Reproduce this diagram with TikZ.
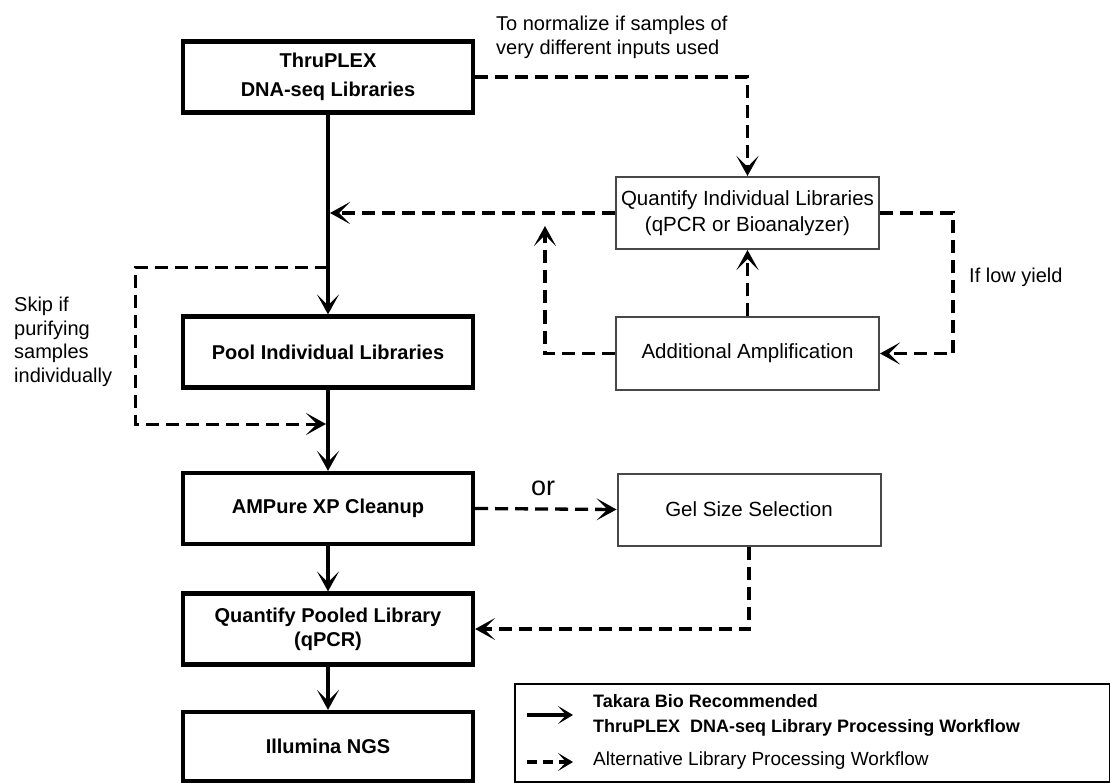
\documentclass[tikz,border=0pt]{standalone}
\usepackage{fontspec}
\setmainfont{Liberation Sans}
\usetikzlibrary{arrows.meta,calc}
\begin{document}
\begin{tikzpicture}[x=1pt,y=-1pt,
  mainbox/.style={draw=black, line width=4.2pt, minimum width=290pt, minimum height=71pt, inner sep=0pt, align=center, font=\bfseries\fontsize{20}{24}\selectfont},
  altbox/.style={draw=black!72, line width=2pt, minimum width=263pt, minimum height=72pt, inner sep=0pt, align=center, font=\fontsize{20.5}{26}\selectfont},
  bigtip/.style={-{Stealth[length=20pt,width=22pt,inset=11pt]}},
  solidarrow/.style={line width=4.2pt, bigtip},
  dasharrow/.style={line width=3.3pt, dash pattern=on 13pt off 7pt, bigtip},
  note/.style={align=left, inner sep=0pt, font=\fontsize{20}{23.5}\selectfont}
]
\useasboundingbox (0,0) rectangle (1110,783);

% main column
\node[mainbox, font=\bfseries\fontsize{20}{29}\selectfont] (thru) at (328,77) {ThruPLEX\\DNA-seq Libraries};
\node[mainbox] (pool) at (328,352) {Pool Individual Libraries};
\node[mainbox] (amp) at (328,508.5) {AMPure XP Cleanup};
\node[mainbox] (qp) at (328,629) {Quantify Pooled Library\\(qPCR)};
\node[mainbox, minimum height=69pt] (ill) at (328,746.5) {Illumina NGS};

% alternative boxes
\node[altbox] (qi) at (747.5,213) {Quantify Individual Libraries\\(qPCR or Bioanalyzer)};
\node[altbox] (aa) at (747.5,353.5) {Additional Amplification};
\node[altbox] (gel) at (749,509.5) {Gel Size Selection};

% notes
\node[note, anchor=west] (norm) at (496,37.5) {To normalize if samples of\\very different inputs used};
\node[note, anchor=west] (skip) at (14,342) {Skip if\\purifying\\samples\\individually};
\node[note, anchor=west] (low) at (969,277) {If low yield};
\node[font=\fontsize{27}{27}\selectfont, inner sep=0pt] (or) at (543,488) {or};

% solid workflow
\draw[solidarrow] (thru.south) -- (pool.north);
\draw[solidarrow] (pool.south) -- (amp.north);
\draw[solidarrow] (amp.south) -- (qp.north);
\draw[solidarrow] (qp.south) -- (ill.north);

% dashed alternatives
\draw[dasharrow] (thru.east) -- (thru.east -| qi.north) -- (qi.north);
\draw[dasharrow, shorten >=2pt] (qi.west) -- (qi.west -| thru.south);
\coordinate (rc) at (953,0);
\draw[dasharrow] (qi.east) -- (qi.east -| rc) -- (aa.east -| rc) -- (aa.east);
\draw[dasharrow] (aa.north) -- (qi.south);
\coordinate (lc) at (545,226);
\draw[dasharrow] (aa.west) -- (aa.west -| lc) -- (lc);
\coordinate (sk1) at (328,268);
\coordinate (sk2) at (328,424);
\coordinate (skx) at (135,0);
\draw[dasharrow, line width=3pt, shorten >=2pt] (sk1) -- (sk1 -| skx) -- (sk2 -| skx) -- (sk2);
\draw[dasharrow] (amp.east) -- (gel.west);
\draw[dasharrow] (gel.south) |- (qp.east);

% legend
\node[draw, line width=2pt, minimum width=595pt, minimum height=98pt, anchor=north west, inner sep=0pt] (legend) at (514,683) {};
\coordinate (l1a) at (527,715);
\coordinate (l1b) at (573,715);
\coordinate (l2a) at (527,762);
\coordinate (l2b) at (573,762);
\draw[line width=4pt, -{Stealth[length=15pt,width=18pt,inset=8pt]}] (l1a) -- (l1b);
\draw[line width=3.4pt, dash pattern=on 10pt off 6pt, -{Stealth[length=15pt,width=18pt,inset=8pt]}] (l2a) -- (l2b);
\node[anchor=west, align=left, inner sep=0pt, font=\bfseries\fontsize{18}{25}\selectfont] (lt1) at (593,715.5) {Takara Bio Recommended\\ThruPLEX\ \ DNA-seq Library Processing Workflow};
\node[anchor=west, inner sep=0pt, font=\fontsize{19}{19}\selectfont] (lt2) at (593,761) {Alternative Library Processing Workflow};
\end{tikzpicture}
\end{document}
